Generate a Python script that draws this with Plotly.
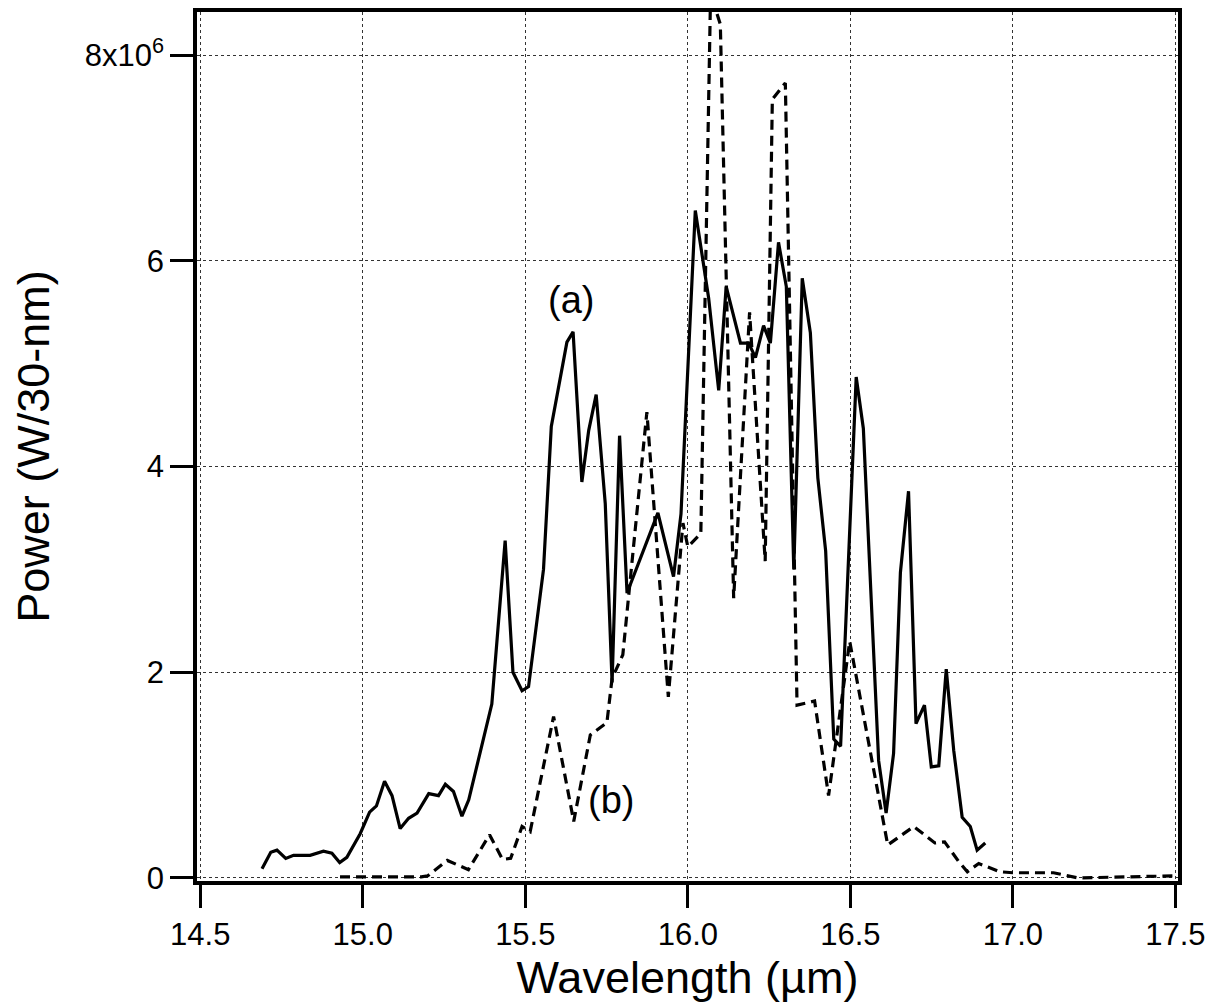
import plotly.graph_objects as go

# Spectrum (a): solid curve
wl_a = [14.690, 14.717, 14.736, 14.763, 14.787, 14.838, 14.879, 14.905, 14.929, 14.951,
        14.992, 15.021, 15.042, 15.067, 15.090, 15.115, 15.141, 15.167, 15.203, 15.233,
        15.254, 15.279, 15.305, 15.326, 15.397, 15.438, 15.462, 15.490, 15.510, 15.556,
        15.580, 15.628, 15.647, 15.674, 15.695, 15.718, 15.746, 15.767, 15.790, 15.813,
        15.908, 15.956, 15.979, 16.023, 16.064, 16.095, 16.118, 16.162, 16.187, 16.208,
        16.233, 16.254, 16.279, 16.303, 16.326, 16.352, 16.377, 16.400, 16.424, 16.449,
        16.470, 16.518, 16.540, 16.562, 16.587, 16.610, 16.633, 16.654, 16.679, 16.702,
        16.728, 16.749, 16.772, 16.795, 16.818, 16.844, 16.869, 16.890, 16.915]
pw_a = [0.09, 0.25, 0.27, 0.19, 0.22, 0.22, 0.26, 0.24, 0.15, 0.20,
        0.43, 0.64, 0.70, 0.94, 0.80, 0.48, 0.58, 0.63, 0.82, 0.80,
        0.91, 0.84, 0.60, 0.76, 1.69, 3.28, 2.00, 1.82, 1.86, 3.00,
        4.39, 5.21, 5.31, 3.85, 4.35, 4.70, 3.64, 1.90, 4.30, 2.77,
        3.55, 2.93, 3.54, 6.49, 5.64, 4.74, 5.75, 5.20, 5.20, 5.06,
        5.37, 5.20, 6.18, 5.75, 3.00, 5.83, 5.30, 3.89, 3.18, 1.35,
        1.28, 4.87, 4.37, 2.79, 1.14, 0.63, 1.21, 2.97, 3.76, 1.50,
        1.68, 1.08, 1.09, 2.03, 1.24, 0.59, 0.50, 0.27, 0.34]

# Spectrum (b): dashed curve
wl_b = [14.930, 15.000, 15.100, 15.180, 15.200, 15.260, 15.325, 15.390, 15.430, 15.455,
        15.490, 15.515, 15.587, 15.649, 15.700, 15.751, 15.767, 15.800, 15.874, 15.940,
        15.985, 16.000, 16.040, 16.070, 16.100, 16.141, 16.190, 16.238, 16.260, 16.300,
        16.336, 16.390, 16.433, 16.498, 16.615, 16.695, 16.760, 16.790, 16.833, 16.860,
        16.895, 16.960, 17.000, 17.125, 17.200, 17.500]
pw_b = [0.01, 0.01, 0.01, 0.01, 0.02, 0.17, 0.08, 0.42, 0.18, 0.19,
        0.50, 0.45, 1.57, 0.55, 1.39, 1.51, 1.94, 2.17, 4.53, 1.76,
        3.45, 3.22, 3.35, 8.60, 8.30, 2.72, 5.50, 3.08, 7.57, 7.73,
        1.68, 1.72, 0.80, 2.30, 0.32, 0.50, 0.34, 0.35, 0.16, 0.06,
        0.14, 0.06, 0.05, 0.05, 0.00, 0.02]

SCALE = 1e6
x_ticks = [14.5, 15.0, 15.5, 16.0, 16.5, 17.0, 17.5]
y_ticks = [0, 2, 4, 6, 8]
y_tick_text = ["0", "2", "4", "6", "8x10<sup>6</sup>"]

FONT = "Liberation Sans, Arial, Helvetica, sans-serif"

fig = go.Figure()
fig.add_trace(go.Scatter(
    x=wl_a, y=[v * SCALE for v in pw_a], mode="lines",
    line=dict(color="black", width=3.2), showlegend=False))
fig.add_trace(go.Scatter(
    x=wl_b, y=[v * SCALE for v in pw_b], mode="lines",
    line=dict(color="black", width=3.2, dash="10px,6px"), showlegend=False))

fig.add_annotation(x=15.642, y=5.62 * SCALE, text="(a)", showarrow=False,
                   font=dict(family=FONT, size=38, color="black"))
fig.add_annotation(x=15.765, y=0.76 * SCALE, text="(b)", showarrow=False,
                   font=dict(family=FONT, size=38, color="black"))

axis_common = dict(
    showline=True, linecolor="black", linewidth=3.5, mirror=True,
    ticks="outside", ticklen=23, tickwidth=3, tickcolor="black",
    showgrid=True, gridcolor="#333333", gridwidth=1, griddash="dot",
    zeroline=False,
    tickfont=dict(family=FONT, size=31, color="black"),
)

fig.update_xaxes(
    range=[14.49, 17.508], tickvals=x_ticks,
    ticktext=[f"{v:.1f}" for v in x_ticks],
    title=dict(text="Wavelength (µm)", font=dict(family=FONT, size=45, color="black"),
               standoff=0),
    **axis_common)
fig.update_yaxes(
    range=[-0.03 * SCALE, 8.42 * SCALE], tickvals=[v * SCALE for v in y_ticks],
    ticktext=y_tick_text,
    title=dict(text="Power (W/30-nm)", font=dict(family=FONT, size=45, color="black"),
               standoff=22),
    **axis_common)

fig.update_layout(
    width=1219, height=1003,
    margin=dict(l=197, r=41, t=8, b=122),
    plot_bgcolor="white", paper_bgcolor="white",
)

fig.write_html("out.html")
